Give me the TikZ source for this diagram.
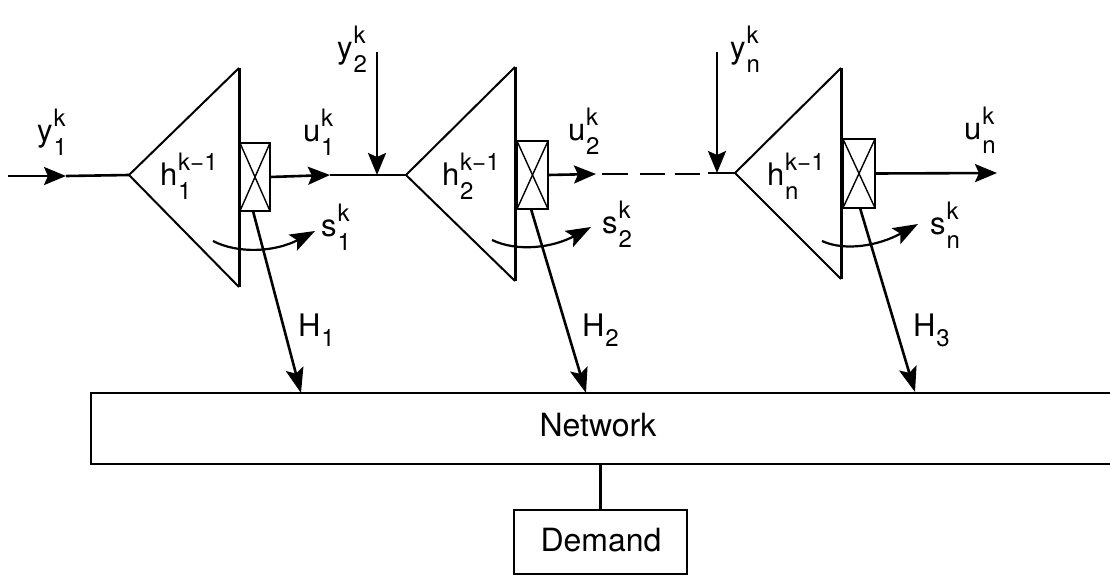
\documentclass[tikz,border=0pt]{standalone}
\usepackage{fontspec}
\setmainfont{TeX Gyre Heros}
\usetikzlibrary{arrows.meta}
\newcommand{\mainsz}{\fontsize{31}{31}\selectfont}
\newcommand{\smallsz}{\fontsize{24}{24}\selectfont}
\newcommand{\lab}[3]{\hspace{1pt}\rlap{\raisebox{14.5pt}{\smallsz #2}}\raisebox{-14.5pt}{\smallsz #3}}
\newcommand{\labH}[1]{\hspace{1pt}\raisebox{-10pt}{\smallsz #1}}
\tikzset{
  ln/.style={line width=2.6pt,black},
  tri/.style={line width=2pt,line join=miter},
  wall/.style={line width=3pt},
  sw/.style={draw,line width=2.4pt,inner sep=0pt,outer sep=0pt},
  cross/.style={line width=1.4pt},
  arr/.style={ln,-{Stealth[length=22pt,width=18pt,inset=4pt]}},
  thinarr/.style={line width=2.6pt,-{Stealth[length=25pt,width=18pt,inset=5pt]}},
  txt/.style={inner sep=0pt,outer sep=0pt,anchor=base west,font=\mainsz},
  sblock/.style={draw,line width=2.6pt,inner sep=0pt,outer sep=0pt},
}
\begin{document}
\begin{tikzpicture}[x=1pt,y=-1pt]
\clip (0,0) rectangle (1110,576);
\fill[white] (0,0) rectangle (1110,576);
% ---------- named points
\coordinate (in1) at (8,176);
\coordinate (in1m) at (66,176);
\coordinate (a1) at (129,175);
\coordinate (t1) at (239,68);
\coordinate (b1) at (239,287);
\coordinate (a2) at (406,175);
\coordinate (t2) at (515,67);
\coordinate (b2) at (515,281);
\coordinate (a3) at (735,173);
\coordinate (t3) at (841,68);
\coordinate (b3) at (841,279);
\coordinate (y2s) at (377,52);
\coordinate (y2e) at (377,175);
\coordinate (yns) at (717,52);
\coordinate (yne) at (717,173);
\coordinate (u1m) at (330,175);
\coordinate (u2m) at (596,174);
\coordinate (d1) at (602,174);
\coordinate (d1e) at (628,174);
\coordinate (d2) at (640,174);
\coordinate (d2e) at (665,174);
\coordinate (d3) at (675,174);
\coordinate (d3e) at (700,174);
\coordinate (d4) at (708,173);
\coordinate (une) at (997,173);
\coordinate (H1t) at (301,393);
\coordinate (H2t) at (586,393);
\coordinate (H3t) at (915,392);
\coordinate (s1a) at (213,241);
\coordinate (s1b) at (315,231);
\coordinate (s2a) at (492,240);
\coordinate (s2b) at (591,227);
\coordinate (s3a) at (822,241);
\coordinate (s3b) at (918,224);
% ---------- turbines
\draw[tri] (t1) -- (a1) -- (b1);
\draw[wall] (t1) -- (b1);
\draw[tri] (t2) -- (a2) -- (b2);
\draw[wall] (t2) -- (b2);
\draw[tri] (t3) -- (a3) -- (b3);
\draw[wall] (t3) -- (b3);
% ---------- gate boxes
\node[sw,anchor=north west,minimum width=30pt,minimum height=68pt] (g1) at (240,143) {};
\node[sw,anchor=north west,minimum width=31pt,minimum height=68pt] (g2) at (517,141) {};
\node[sw,anchor=north west,minimum width=32pt,minimum height=69pt] (g3) at (843,139) {};
\foreach \g in {g1,g2,g3}{
  \draw[cross] (\g.north west) -- (\g.south east);
  \draw[cross] (\g.north east) -- (\g.south west);
}
% ---------- flow
\draw[arr] (in1) -- (in1m);
\draw[ln] (in1m) -- (a1);
\draw[arr] (g1.east) -- (u1m);
\draw[ln] (u1m) -- (a2);
\draw[arr] (y2s) -- (y2e);
\draw[arr] (g2.east) -- (u2m);
\draw[ln] (d1) -- (d1e);
\draw[ln] (d2) -- (d2e);
\draw[ln] (d3) -- (d3e);
\draw[ln] (d4) -- (a3);
\draw[arr] (yns) -- (yne);
\draw[arr] (g3.east) -- (une);
% ---------- spill arcs
\draw[thinarr,line width=2.2pt] (s1a) .. controls (238,254) and (275,252) .. (s1b);
\draw[thinarr,line width=2.2pt] (s2a) .. controls (517,252) and (552,248) .. (s2b);
\draw[thinarr,line width=2.2pt] (s3a) .. controls (846,252) and (880,245) .. (s3b);
% ---------- network and demand
\node[sblock,anchor=north west,minimum width=1040pt,minimum height=71pt] (net) at (91,393) {};
\node[txt,anchor=base] (netl) at (598,436) {\fontsize{32}{32}\selectfont Network};
\node[sblock,anchor=north west,minimum width=173pt,minimum height=64pt] (dem) at (514,510) {};
\node[txt,anchor=base] (deml) at (601,551) {\fontsize{32}{32}\selectfont Demand};
\draw[ln] (net.south -| dem.north) -- (dem.north);
% ---------- to network
\draw[thinarr] (g1.south west) ++(13,0) coordinate (H1s) -- (H1t);
\draw[thinarr] (g2.south west) ++(14,0) coordinate (H2s) -- (H2t);
\draw[thinarr] (g3.south west) ++(17,0) coordinate (H3s) -- (H3t);
% ---------- labels
\node[txt] (ly1) at (37,141) {y\lab{}{k}{1}};
\node[txt] (ly2) at (337,58) {y\lab{}{k}{2}};
\node[txt] (lyn) at (730,58) {y\lab{}{k}{n}};
\node[txt] (lu1) at (303,141) {u\lab{}{k}{1}};
\node[txt] (lu2) at (568,140) {u\lab{}{k}{2}};
\node[txt] (lun) at (964,139) {u\lab{}{k}{n}};
\node[txt] (lh1) at (160,185) {h\lab{}{k−1}{1}};
\node[txt] (lh2) at (442,185) {h\lab{}{k−1}{2}};
\node[txt] (lhn) at (767,185) {h\lab{}{k−1}{n}};
\node[txt] (ls1) at (321,236) {s\lab{}{k}{1}};
\node[txt] (ls2) at (602,233) {s\lab{}{k}{2}};
\node[txt] (lsn) at (930,234) {s\lab{}{k}{n}};
\node[txt] (lH1) at (298,336) {H\labH{1}};
\node[txt] (lH2) at (582,336) {H\labH{2}};
\node[txt] (lH3) at (913,336) {H\labH{3}};
\end{tikzpicture}
\end{document}
